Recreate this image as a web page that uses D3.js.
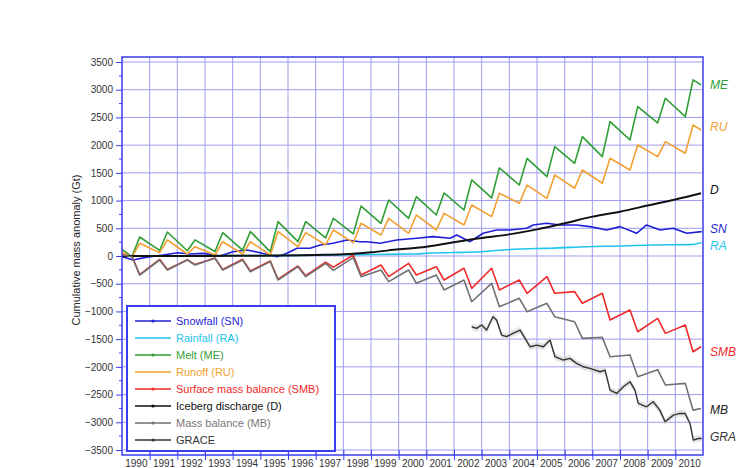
<!DOCTYPE html>
<html><head><meta charset="utf-8">
<script src="https://cdn.jsdelivr.net/npm/d3@7/dist/d3.min.js"></script>
<style>body{margin:0;background:#fff;} svg{display:block;font-family:Arial,"Liberation Sans",sans-serif;}</style>
</head><body>
<svg id="c" width="736" height="468"></svg>
<script>
// ---------- data ----------
const years = [1990,1991,1992,1993,1994,1995,1996,1997,1998,1999,2000,2001,2002,2003,2004,2005,2006,2007,2008,2009,2010];
const yTicks = [-3500,-3000,-2500,-2000,-1500,-1000,-500,0,500,1000,1500,2000,2500,3000,3500];

// Melt (ME): pre-melt minimum (~May) and end-of-summer maximum (~Aug) for each year
const meStart = 120, meEnd = 3087;
const meLow  = [-10,100,95,80,105,80,260,325,400,590,680,740,830,1047,1281,1432,1673,1792,2094,2400,2514];
const meHigh = [343,433,290,420,440,620,620,680,900,1010,1070,1137,1372,1588,1760,1973,2153,2424,2695,2846,3177];

// Runoff (RU)
const ruStart = 70, ruEnd = 2274;
const ruLow  = [-20,60,36,18,36,18,168,199,240,379,410,469,560,710,951,1040,1222,1312,1552,1792,1853];
const ruHigh = [229,289,168,258,258,439,421,469,590,680,740,770,920,1132,1280,1462,1552,1763,2003,2063,2364];

// Surface mass balance (SMB): pre-melt maximum and end-of-summer minimum
const smbStart = 20, smbEnd = -1637;
const smbHigh = [-5,-60,-65,-35,-60,-90,-180,-110,18,-162,-132,-193,-222,-222,-433,-373,-643,-673,-975,-1125,-1245];
const smbLow  = [-335,-245,-155,-245,-270,-420,-355,-200,-343,-373,-343,-433,-583,-613,-673,-673,-853,-1155,-1366,-1396,-1727];

// Mass balance (MB)
const mbStart = 18, mbEnd = -2750;
const mbHigh = [-12,-72,-72,-42,-72,-102,-193,-132,-30,-253,-253,-343,-433,-493,-764,-854,-1186,-1468,-1787,-2050,-2298];
const mbLow  = [-343,-253,-162,-253,-283,-433,-373,-260,-373,-463,-493,-613,-825,-915,-1005,-1095,-1486,-1817,-2178,-2326,-2780];

// Iceberg discharge (D), value at start of each year, plus end value
const dValues = [0,0,0,2,4,6,10,18,30,66,120,168,250,325,390,480,590,710,800,910,1020];
const dEnd = 1132;

// Snowfall (SN)
const snTimes  = [1990.0,1990.4,1990.9,1991.48,1992.02,1992.46,1992.93,1993.54,1994.01,1994.52,1994.99,1995.6,1995.96,1996.33,1996.8,1997.16,1997.63,1998.13,1998.6,1998.84,1999.33,1999.93,2000.65,2001.24,2001.86,2002.1,2002.58,2003.05,2003.54,2004.02,2004.63,2004.86,2005.35,2005.83,2006.43,2006.91,2007.52,2008.0,2008.6,2008.96,2009.45,2009.92,2010.41,2010.95];
const snValues = [-10,-72,-20,18,60,36,48,0,78,108,60,-12,48,139,139,199,229,289,258,258,229,289,319,349,319,379,258,410,469,469,500,560,590,560,560,530,469,530,410,560,469,500,410,439];

// Rainfall (RA)
const raTimes  = [1990,1992,1994,1996,1997,1998,1999,2000,2000.65,2001,2002,2003,2004,2005,2005.5,2006.8,2008,2009.2,2010.5,2010.95];
const raValues = [0,3,8,12,15,20,28,34,36,50,62,78,118,136,140,168,180,199,205,240];

// GRACE
const grTimes  = [2002.64,2002.82,2003.0,2003.18,2003.41,2003.54,2003.72,2003.9,2004.13,2004.39,2004.57,2004.75,2004.99,2005.23,2005.47,2005.65,2005.95,2006.19,2006.43,2006.67,2006.91,2007.28,2007.46,2007.64,2007.88,2008.12,2008.36,2008.54,2008.66,2008.96,2009.2,2009.44,2009.63,2009.93,2010.17,2010.35,2010.53,2010.65,2010.83,2010.95];
const grValues = [-1276,-1306,-1245,-1336,-1095,-1155,-1426,-1456,-1396,-1336,-1486,-1637,-1607,-1637,-1516,-1817,-1877,-1847,-1937,-1997,-2027,-2088,-2058,-2419,-2479,-2359,-2268,-2419,-2659,-2720,-2630,-2780,-2990,-2870,-2840,-2840,-3021,-3322,-3292,-3292];
const grErr = 60;

const legendNames = ["Snowfall (SN)","Rainfall (RA)","Melt (ME)","Runoff (RU)","Surface mass balance (SMB)","Iceberg discharge (D)","Mass balance (MB)","GRACE"];
const endLabels = ["SN","RA","ME","RU","SMB","D","MB","GRACE"];

// ---------- styling ----------
const colors = ["#1f1fd6","#22c4ee","#2f9e34","#f2a032","#f02a2a","#111111","#707070","#333333"];
const widths = [1.6,1.6,1.6,1.6,1.6,2,1.6,1.4];
const endLabelY = [229,246,85,127,352,190,410,437];

const W = 736, H = 468;
const M = {left:122, top:57, right:703, bottom:455};
const x = d3.scaleLinear().domain([1990, 2011]).range([M.left, M.right]);
const y = d3.scaleLinear().domain([-3590, 3590]).range([M.bottom, M.top]);

const svg = d3.select("#c");
svg.append("rect").attr("width",W).attr("height",H).attr("fill","#fff");

// grid
const gridColor = "#9c9cf2";
const grid = svg.append("g");
grid.selectAll("line.h").data(yTicks).join("line")
  .attr("x1",M.left).attr("x2",M.right).attr("y1",d=>y(d)).attr("y2",d=>y(d))
  .attr("stroke",gridColor).attr("stroke-width",1);
grid.selectAll("line.v").data(years.slice(1)).join("line")
  .attr("y1",M.top).attr("y2",M.bottom).attr("x1",d=>x(d)).attr("x2",d=>x(d))
  .attr("stroke",gridColor).attr("stroke-width",1);

// build series
function saw(start, a, b, end){
  const pts = [[1990, start]];
  years.forEach((yr,i)=>{ pts.push([yr+0.36, a[i]]); pts.push([yr+0.64, b[i]]); });
  pts.push([2010.93, end]);
  return pts;
}
const series = [
  snTimes.map((t,i)=>[t, snValues[i]]),
  raTimes.map((t,i)=>[t, raValues[i]]),
  saw(meStart, meLow, meHigh, meEnd),
  saw(ruStart, ruLow, ruHigh, ruEnd),
  saw(smbStart, smbHigh, smbLow, smbEnd),
  years.map((yr,i)=>[yr, dValues[i]]).concat([[2010.93, dEnd]]),
  saw(mbStart, mbHigh, mbLow, mbEnd),
  grTimes.map((t,i)=>[t, grValues[i]])
];

svg.append("clipPath").attr("id","clip").append("rect")
  .attr("x",M.left).attr("y",M.top).attr("width",M.right-M.left).attr("height",M.bottom-M.top);
const plot = svg.append("g").attr("clip-path","url(#clip)");

// GRACE error band
const band = d3.area().x(d=>x(d[0])).y0(d=>y(d[1]-grErr)).y1(d=>y(d[1]+grErr));
plot.append("path").datum(series[7]).attr("d",band).attr("fill","#d8d8d8").attr("opacity",0.7);

const line = d3.line().x(d=>x(d[0])).y(d=>y(d[1]));
const lineSmooth = d3.line().x(d=>x(d[0])).y(d=>y(d[1])).curve(d3.curveMonotoneX);
series.forEach((s,i)=>{
  plot.append("path").datum(s)
    .attr("d", (i===5 || i===1) ? lineSmooth : line)
    .attr("fill","none").attr("stroke",colors[i]).attr("stroke-width",widths[i])
    .attr("stroke-linejoin","round");
});

// axes
const yAxis = d3.axisLeft(y).tickValues(yTicks).tickSize(6).tickPadding(3).tickFormat(d3.format("d"));
const gy = svg.append("g").attr("transform",`translate(${M.left},0)`).call(yAxis);
gy.select(".domain").remove();
gy.selectAll(".tick line").attr("stroke","#3c3cf0");
gy.selectAll("text").attr("font-size",10).attr("fill","#333").attr("font-family","Arial, 'Liberation Sans', sans-serif");
// minor y ticks
const minor = yTicks.slice(0,-1).map(v=>v+250);
svg.append("g").selectAll("line").data(minor).join("line")
  .attr("x1",M.left-3).attr("x2",M.left).attr("y1",d=>y(d)).attr("y2",d=>y(d))
  .attr("stroke","#3c3cf0");

const xTickAxis = d3.axisBottom(x).tickValues(years.slice(1)).tickSizeInner(5).tickSizeOuter(0).tickFormat("");
const gxt = svg.append("g").attr("transform",`translate(0,${M.bottom})`).call(xTickAxis);
gxt.select(".domain").remove();
gxt.selectAll(".tick line").attr("stroke","#3c3cf0").attr("y1",-5);
const xLab = d3.axisBottom(d3.scaleLinear().domain([1990,2011]).range([M.left,M.right]))
  .tickValues(years.map(v=>v+0.5)).tickSize(0).tickPadding(5).tickFormat(d=>String(Math.floor(d)));
const gxl = svg.append("g").attr("transform",`translate(0,${M.bottom})`).call(xLab);
gxl.select(".domain").remove();
gxl.selectAll("text").attr("font-size",10).attr("fill","#333").attr("font-family","Arial, 'Liberation Sans', sans-serif");

// frame
svg.append("rect").attr("x",M.left).attr("y",M.top).attr("width",M.right-M.left).attr("height",M.bottom-M.top)
  .attr("fill","none").attr("stroke","#3c3cf0").attr("stroke-width",1.5);

// y label
svg.append("text").attr("transform","translate(80,250) rotate(-90)")
  .attr("text-anchor","middle").attr("font-size",11).attr("fill","#222")
  .text("Cumulative mass anomaly (Gt)");

// legend
const lg = svg.append("g");
lg.append("rect").attr("x",127).attr("y",306).attr("width",208).attr("height",145)
  .attr("fill","#fff").attr("stroke","#3c3cf0").attr("stroke-width",2);
legendNames.forEach((n,i)=>{
  const yy = 321 + i*17;
  lg.append("line").attr("x1",135).attr("x2",171).attr("y1",yy).attr("y2",yy)
    .attr("stroke",colors[i]).attr("stroke-width",1.3);
  if(i!==1 && i!==3) lg.append("circle").attr("cx",153).attr("cy",yy).attr("r",1.6).attr("fill",colors[i]);
  lg.append("text").attr("x",176).attr("y",yy+4).attr("font-size",11)
    .attr("fill", i===6 ? "#777" : colors[i]).text(n);
});

// end labels
endLabels.forEach((t,i)=>{
  svg.append("text").attr("x",710).attr("y",endLabelY[i]+4).attr("font-size",12)
    .attr("font-style","italic").attr("fill", i===6 ? "#222" : colors[i]).text(t);
});
</script>
</body></html>
